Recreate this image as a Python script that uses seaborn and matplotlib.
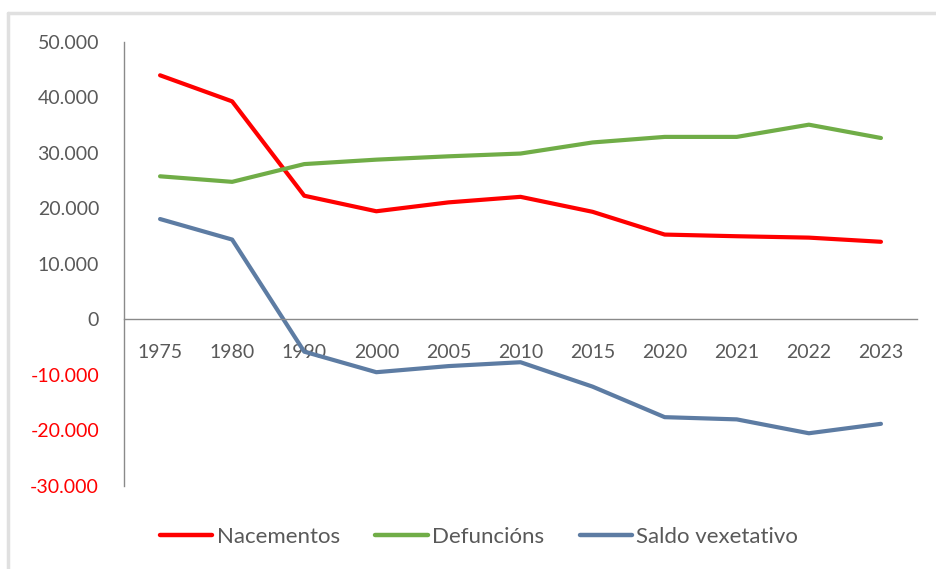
import matplotlib
matplotlib.use("Agg")
import matplotlib.pyplot as plt
from matplotlib.lines import Line2D
import pandas as pd
import seaborn as sns

years = ["1975", "1980", "1990", "2000", "2005", "2010", "2015", "2020", "2021", "2022", "2023"]
nacementos = [44000, 39300, 22300, 19500, 21100, 22100, 19400, 15300, 15000, 14750, 14000]
defuncions = [25800, 24800, 28000, 28800, 29400, 29900, 31900, 32900, 32900, 35100, 32700]
saldo = [18100, 14400, -5800, -9500, -8400, -7700, -12100, -17600, -18000, -20500, -18800]

series_names = ["Nacementos", "Defuncións", "Saldo vexetativo"]
colors = ["#FF0000", "#70AD47", "#5D7CA3"]
yticks = [50000, 40000, 30000, 20000, 10000, 0, -10000, -20000, -30000]

df = pd.DataFrame({
    "ano": years * 3,
    "valor": nacementos + defuncions + saldo,
    "serie": [s for s in series_names for _ in years],
})

sns.set_theme(style="white")
plt.rcParams["font.family"] = ["Lato", "DejaVu Sans"]

fig = plt.figure(figsize=(9.36, 5.69), dpi=100)
ax = fig.add_axes([0.1325, 0.1459, 0.8472, 0.7803])

sns.lineplot(data=df, x="ano", y="valor", hue="serie", hue_order=series_names,
             palette=colors, linewidth=3, sort=False, legend=False, ax=ax)

ax.set_xlim(-0.5, len(years) - 0.5)
ax.set_ylim(-30000, 50000)
ax.set_yticks(yticks)
ax.set_yticklabels([f"{v:,}".replace(",", ".") for v in yticks])
for lbl, v in zip(ax.get_yticklabels(), yticks):
    lbl.set_color("#FF0000" if v < 0 else "#595959")
ax.set_xlabel("")
ax.set_ylabel("")

for side in ["top", "right"]:
    ax.spines[side].set_visible(False)
ax.spines["bottom"].set_position(("data", 0))
for side in ["left", "bottom"]:
    ax.spines[side].set_color("#8A8A8A")
    ax.spines[side].set_linewidth(1.0)
ax.tick_params(axis="x", length=0, pad=18, labelsize=14, labelcolor="#595959")
ax.tick_params(axis="y", length=0, pad=18, labelsize=14)
ax.grid(False)

handles = [Line2D([0], [0], color=c, lw=3.2, solid_capstyle="round") for c in colors]
fig.legend(handles, series_names, loc="center", bbox_to_anchor=(0.512, 1 - 537 / 569),
           ncol=3, frameon=False, fontsize=16, handlelength=2.35, handletextpad=0.2,
           columnspacing=1.6, labelcolor="#595959")

# light frame around the chart area
fig.add_artist(Line2D([8 / 936, 8 / 936], [0, 1 - 13 / 569], transform=fig.transFigure,
                      color="#E0E0E0", lw=2.5))
fig.add_artist(Line2D([8 / 936, 1], [1 - 13 / 569, 1 - 13 / 569], transform=fig.transFigure,
                      color="#E0E0E0", lw=2.5))

fig.savefig("out.png", dpi=100)
